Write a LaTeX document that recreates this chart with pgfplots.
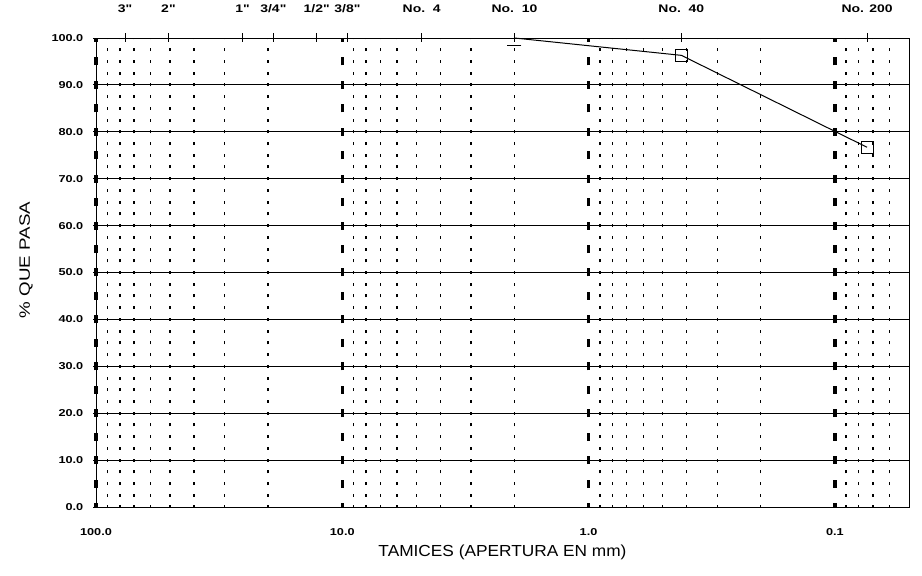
\documentclass[border=0pt]{standalone}
\usepackage{fontspec}
\setmainfont{Liberation Sans}
\newfontfamily\tickf[FakeStretch=1.27,UprightFont={* Bold}]{Liberation Sans}
\newfontfamily\xtitlef[FakeStretch=1.08]{Liberation Sans}
\newfontfamily\ytitlef[FakeStretch=1.25]{Liberation Sans}
\usepackage{pgfplots}
\pgfplotsset{compat=1.18}
\begin{document}
\begin{tikzpicture}
\useasboundingbox (-96pt,-69pt) rectangle (826pt,507pt);
% vertical grid lines
\begin{axis}[
  at={(0,0)}, anchor=south west,
  scale only axis, width=813pt, height=469pt,
  xmode=log, x dir=reverse, xmin=0.05, xmax=100,
  ymin=0, ymax=100,
  xtick={100,10,1,0.1}, xticklabels={},
  minor xtick={90,80,70,60,50,40,30,20,9,8,7,6,5,4,3,2,0.9,0.8,0.7,0.6,0.5,0.4,0.3,0.2,0.09,0.08,0.07,0.06},
  ytick={50}, yticklabels={},
  xmajorgrids=true, xminorgrids=true,
  major grid style={black, line width=3.3pt, dash pattern=on 8pt off 15.45pt, dash phase=4pt},
  minor grid style={black, line width=1.4pt, dash pattern=on 3pt off 8.725pt, dash phase=1.5pt},
  tick style={draw=none},
  axis line style={draw=none},
]
\addplot[draw=none] coordinates {(1,50)};
\end{axis}
% main axis
\begin{axis}[
  at={(0,0)}, anchor=south west,
  scale only axis, width=813pt, height=469pt,
  xmode=log, x dir=reverse, xmin=0.05, xmax=100,
  ymin=0, ymax=100,
  xtick={100,10,1,0.1},
  xticklabels={100.0,10.0,1.0,0.1},
  minor xtick={},
  x tick style={draw=none},
  ytick={0,10,20,30,40,50,60,70,80,90,100},
  yticklabels={0.0,10.0,20.0,30.0,40.0,50.0,60.0,70.0,80.0,90.0,100.0},
  ymajorgrids=true,
  major grid style={black, line width=0.8pt, solid},
  ytick pos=left, xtick pos=bottom,
  tick align=center, major tick length=5pt,
  y tick style={black, line width=0.8pt},
  axis line style={black, line width=0.8pt},
  xticklabel style={font=\tickf\fontsize{10}{12}\selectfont, anchor=center, inner sep=0pt, yshift=-23pt},
  yticklabel style={font=\tickf\fontsize{10}{12}\selectfont, anchor=east, inner sep=0pt, xshift=-10pt},
  xlabel={TAMICES (APERTURA EN mm)},
  ylabel={\% QUE PASA},
  xlabel style={font=\xtitlef\fontsize{16}{18}\selectfont, at={([yshift=-45pt]axis description cs:0.5,0)}, anchor=center},
  ylabel style={font=\ytitlef\fontsize{15}{18}\selectfont, at={([xshift=-70pt]axis description cs:0,0.527)}, anchor=center},
]
\addplot[black, line width=1pt, mark=square, mark size=6pt, mark indices={2,3},
  mark options={solid, fill=white, line width=1pt}] coordinates {
  (2.0,100) (0.42,96.3) (0.074,76.7)
};
\addplot[black, only marks, mark=-, mark size=7pt, mark options={line width=1.3pt}] coordinates {(2.0,98.4)};
\end{axis}
% top sieve labels
\begin{axis}[
  at={(0,0)}, anchor=south west,
  scale only axis, width=813pt, height=469pt,
  xmode=log, x dir=reverse, xmin=0.05, xmax=100,
  ymin=0, ymax=100,
  axis x line*=top, axis y line=none,
  axis line style={draw=none},
  xtick={76.2,50.8,25.4,19.05,12.7,9.525,4.76,2.0,0.42,0.074},
  xticklabels={3",2",1",3/4",1/2",3/8",No.\ \ 4,No.\ \ 10,No.\ \ 40,No. 200},
  minor xtick={},
  tick align=center, major tick length=9pt,
  x tick style={black, line width=0.8pt},
  xticklabel style={font=\tickf\fontsize{11}{13}\selectfont, anchor=center, inner sep=0pt, yshift=25pt},
]
\addplot[draw=none] coordinates {(1,50)};
\end{axis}
\end{tikzpicture}
\end{document}
